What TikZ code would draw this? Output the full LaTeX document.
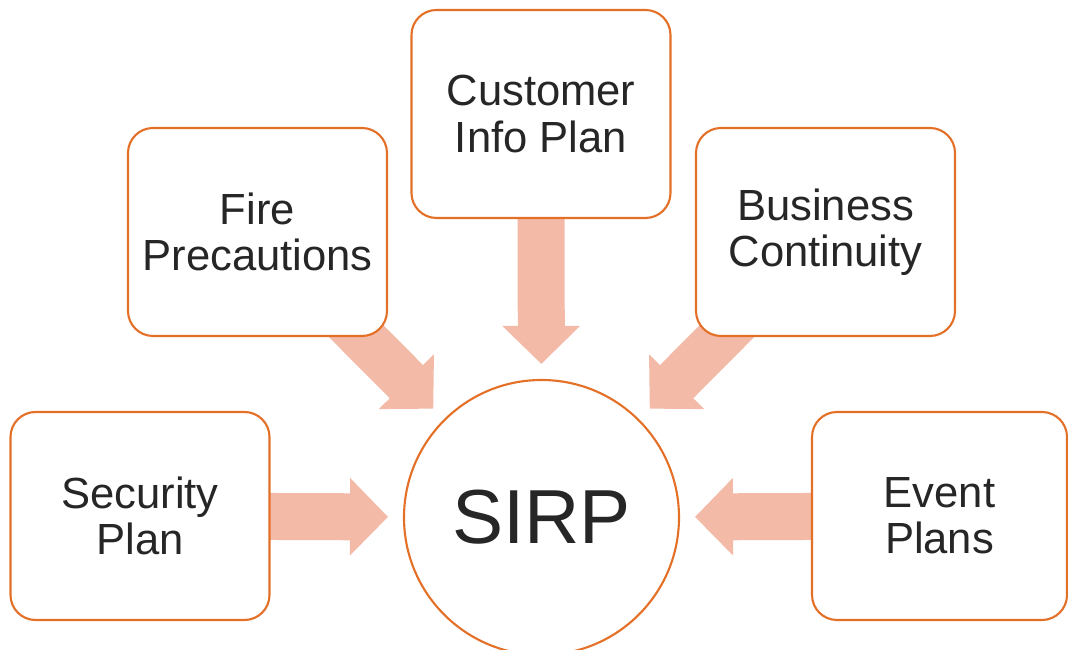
\documentclass[tikz,border=0pt]{standalone}
\usepackage{fontspec}
\setmainfont{Liberation Sans}
\usetikzlibrary{arrows.meta, backgrounds}
\definecolor{boxline}{RGB}{228,112,40}
\definecolor{arrowfill}{RGB}{244,186,168}
\definecolor{textgray}{RGB}{38,38,38}
\tikzset{
  planbox/.style={draw=boxline, line width=0.6pt, fill=white, rounded corners=0.25cm,
    minimum width=2.59cm, minimum height=2.08cm, align=center, text=textgray,
    font=\fontsize{12.4pt}{13.1pt}\selectfont},
  bigarrow/.style={draw=arrowfill, line width=0.47cm, shorten >=0.15cm,
    -{Triangle[length=0.38cm, width=0.77cm, line width=1pt, fill=arrowfill]}}
}

\begin{document}
\begin{tikzpicture}
        \useasboundingbox (0,0) rectangle (10.68,6.5);
        % Plans
        \node[planbox] (cust) at (5.41,5.36) {Customer\\Info Plan};
        \node[planbox] (fire) at (2.575,4.18) {Fire\\Precautions};
        \node[planbox] (biz) at (8.255,4.18) {Business\\Continuity};
        \node[planbox] (sec) at (1.40,1.34) {Security\\Plan};
        \node[planbox, minimum width=2.55cm] (event) at (9.395,1.34) {Event\\Plans};
        % Centre
        \node[circle, draw=boxline, line width=0.6pt, minimum size=2.75cm, text=textgray,
          font=\fontsize{21.8pt}{24pt}\selectfont] (sirp) at (5.415,1.325) {SIRP};
        % Arrows
        \begin{scope}[on background layer]
          \draw[bigarrow] (cust.center) -- (sirp);
          \draw[bigarrow] (fire.center) -- (sirp);
          \draw[bigarrow] (biz.center) -- (sirp);
          \draw[bigarrow] (sec.center) -- (sirp);
          \draw[bigarrow] (event.center) -- (sirp);
        \end{scope}
    \end{tikzpicture}
\end{document}
